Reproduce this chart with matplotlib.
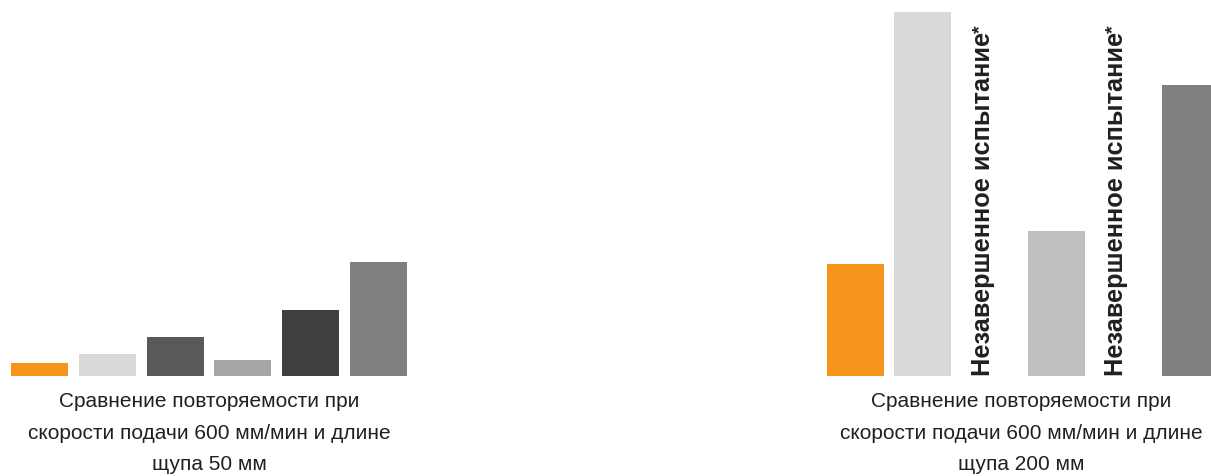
import numpy as np
import matplotlib
matplotlib.use("Agg")
import matplotlib.pyplot as plt
from matplotlib.transforms import IdentityTransform

plt.rcParams['font.family'] = ['Liberation Sans', 'DejaVu Sans']

# Repeatability comparison, probe length 50 mm (arbitrary units)
left_values = [1.3, 2.2, 3.9, 1.6, 6.6, 11.4]
left_colors = ['#f7941e', '#d9d9d9', '#595959', '#a6a6a6', '#404040', '#808080']

# Probe length 200 mm; None marks an unfinished test
right_values = [11.2, 36.4, None, 14.5, None, 29.1]
right_colors = ['#f7941e', '#d9d9d9', '#ffffff', '#bfbfbf', '#ffffff', '#808080']

unfinished_label = 'Незавершенное испытание'
left_caption = 'Сравнение повторяемости при\nскорости подачи 600 мм/мин и длине\nщупа 50 мм'
right_caption = 'Сравнение повторяемости при\nскорости подачи 600 мм/мин и длине\nщупа 200 мм'

W, H = 1211, 476
fig = plt.figure(figsize=(W / 100, H / 100), dpi=100)
fig.patch.set_facecolor('white')

base_px = 376          # baseline, pixels from top
ytop = base_px / 10.0  # y-units spanning from baseline to figure top


def make_axes(x0_px, x1_px):
    ax = fig.add_axes([x0_px / W, (H - base_px) / H, (x1_px - x0_px) / W, base_px / H])
    ax.set_xlim(-0.5, 5.5)
    ax.set_ylim(0, ytop)
    ax.axis('off')
    return ax


text_color = '#231f20'

# Left group
axl = make_axes(5.6, 412.4)
xs = np.arange(len(left_values))
axl.bar(xs, left_values, width=0.84, color=left_colors, linewidth=0)

# Right group
axr = make_axes(821.9, 1223.6)
labels = []
for i, (v, c) in enumerate(zip(right_values, right_colors)):
    if v is None:
        t = axr.text(i - 0.10, 0, unfinished_label, rotation=90,
                     ha='center', va='bottom', fontsize=18.3, fontweight='bold',
                     color=text_color)
        labels.append(t)
    else:
        axr.bar(i, v, width=0.846, color=c, linewidth=0)

# Superscript asterisk after each rotated label
fig.canvas.draw()
renderer = fig.canvas.get_renderer()
for t in labels:
    bb = t.get_window_extent(renderer)
    fig.text(bb.x0 + 1, bb.y1 - 1, '*', rotation=90, ha='left', va='bottom',
             fontsize=14, fontweight='bold', color=text_color,
             transform=IdentityTransform())

# Captions
for cx, caption in ((209, left_caption), (1021, right_caption)):
    fig.text(cx / W, 1 - 392 / H, caption, ha='center', va='top',
             fontsize=15, color=text_color, linespacing=1.84)

fig.savefig('out.png', dpi=100, facecolor='white')
